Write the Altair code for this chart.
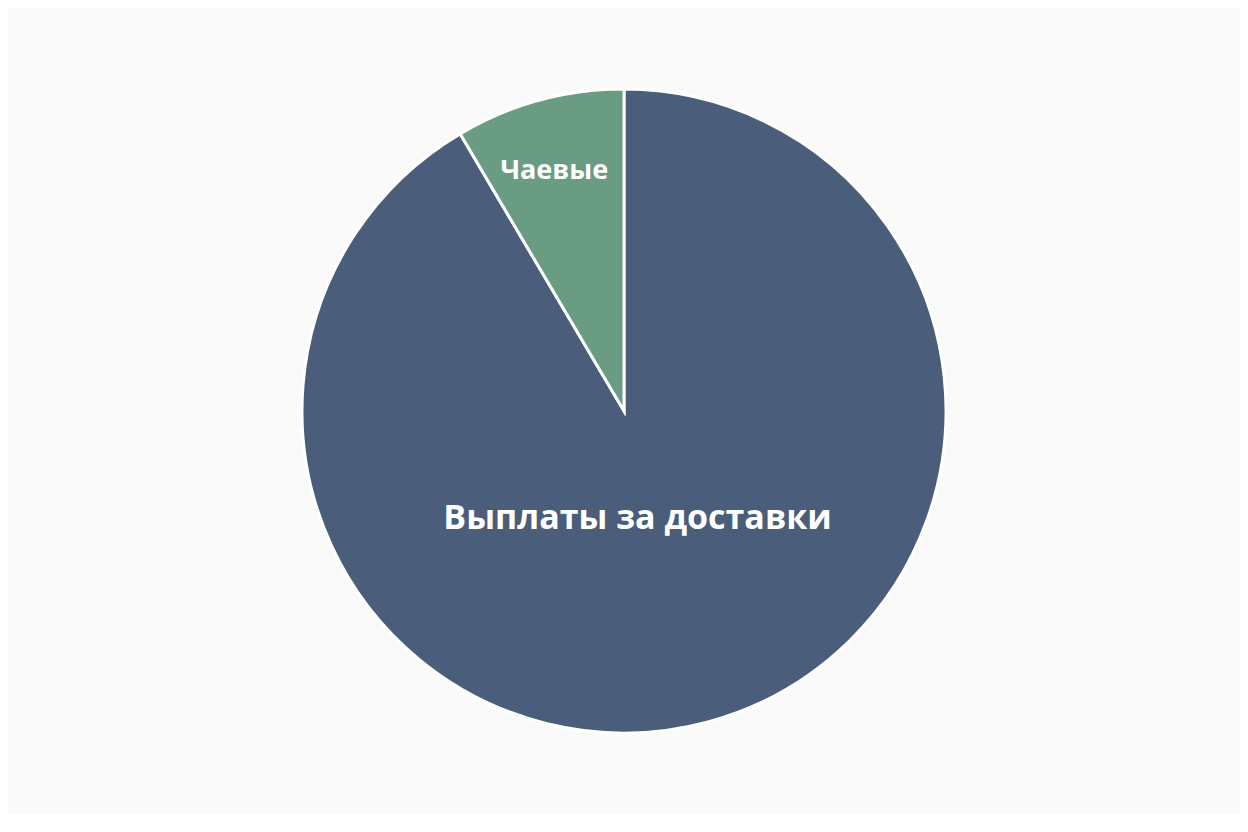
import altair as alt
import pandas as pd
import math

categories = ["Выплаты за доставки", "Чаевые"]
shares = [91.5, 8.5]
order = [1, 2]
colors = ["#4a5d7a", "#6a9c84"]

df = pd.DataFrame({"category": categories, "share": shares, "order": order})

base = (
    alt.Chart(df)
    .transform_joinaggregate(total="sum(share)")
    .transform_stack(
        stack="share", groupby=[], as_=["start", "end"], sort=[alt.SortField("order")]
    )
    .transform_calculate(
        f0="datum.start / datum.total",
        f1="datum.end / datum.total",
        fm="(datum.start + datum.end) / 2 / datum.total",
    )
)

theta_scale = alt.Scale(domain=[0, 1], range=[0, 2 * math.pi], zero=False, nice=False)
color_scale = alt.Scale(domain=categories, range=colors)

arcs = base.mark_arc(outerRadius=322, stroke="#ffffff", strokeWidth=3).encode(
    theta=alt.Theta("f0:Q", scale=theta_scale),
    theta2="f1:Q",
    color=alt.Color("category:N", scale=color_scale, legend=None),
)

label_main = base.transform_filter(alt.datum.category == categories[0]).mark_text(
    radius=112, dx=-16, font="Open Sans", fontWeight="bold", fontSize=34, color="#ffffff"
).encode(theta=alt.Theta("fm:Q", scale=theta_scale), text="category:N")

label_tip = base.transform_filter(alt.datum.category == categories[1]).mark_text(
    radius=249, dx=-4, font="Open Sans", fontWeight="bold", fontSize=27, color="#ffffff"
).encode(theta=alt.Theta("fm:Q", scale=theta_scale), text="category:N")

chart = alt.layer(arcs, label_main, label_tip).properties(
    width=1232, height=806, padding=0, background="#fafafa"
).configure_view(stroke=None)

chart.save("out.html", embed_options={"renderer": "svg", "actions": False})
